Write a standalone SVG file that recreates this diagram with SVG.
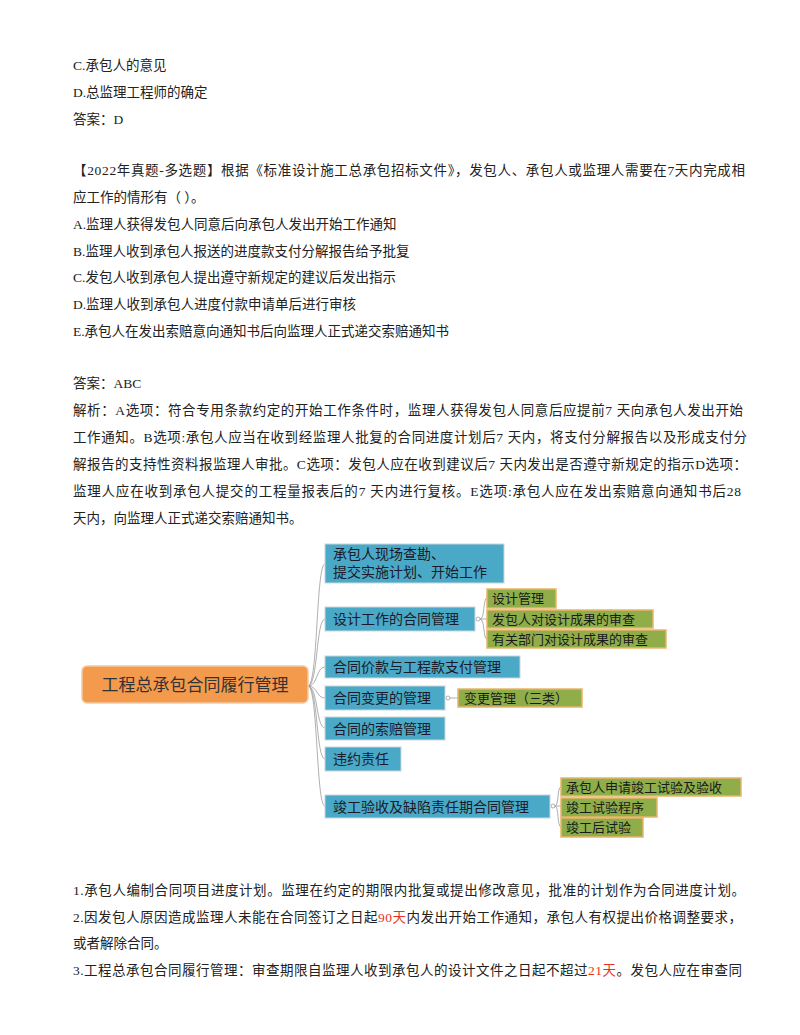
<svg xmlns="http://www.w3.org/2000/svg" width="800" height="1035" viewBox="0 0 800 1035">
<style>
.t{font-family:"Liberation Serif","Noto Sans CJK SC",serif;font-size:13.5px;fill:#222}
.r{fill:#e8321e}
.blue{fill:#4aa9c6;stroke:#c9d6de;stroke-width:1}
.grn{fill:#8fae4a;stroke:#e9b46a;stroke-width:1.5}
.bt{font-family:"Noto Sans CJK SC",sans-serif;font-size:14px;fill:#1a1a2a}
.gt{font-family:"Noto Sans CJK SC",sans-serif;font-size:13px;fill:#1a1a1a}
.c{fill:none;stroke:#9a9a9a;stroke-width:0.8}
</style>
<rect width="800" height="1035" fill="#fff"/>
<g id="text">
<text class="t" x="73" y="70">C.承包人的意见</text>
<text class="t" x="73" y="97">D.总监理工程师的确定</text>
<text class="t" x="73" y="124">答案：D</text>
<text class="t" x="73" y="175" textLength="672" lengthAdjust="spacing">【2022年真题-多选题】根据《标准设计施工总承包招标文件》，发包人、承包人或监理人需要在7天内完成相</text>
<text class="t" x="73" y="202">应工作的情形有（ ）。</text>
<text class="t" x="73" y="229">A.监理人获得发包人同意后向承包人发出开始工作通知</text>
<text class="t" x="73" y="256">B.监理人收到承包人报送的进度款支付分解报告给予批复</text>
<text class="t" x="73" y="282">C.发包人收到承包人提出遵守新规定的建议后发出指示</text>
<text class="t" x="73" y="309">D.监理人收到承包人进度付款申请单后进行审核</text>
<text class="t" x="73" y="336">E.承包人在发出索赔意向通知书后向监理人正式递交索赔通知书</text>
<text class="t" x="73" y="388">答案：ABC</text>
<text class="t" x="73" y="415" textLength="670" lengthAdjust="spacing">解析：A选项：符合专用条款约定的开始工作条件时，监理人获得发包人同意后应提前7 天向承包人发出开始</text>
<text class="t" x="73" y="442" textLength="674" lengthAdjust="spacing">工作通知。B选项:承包人应当在收到经监理人批复的合同进度计划后7 天内，将支付分解报告以及形成支付分</text>
<text class="t" x="73" y="469" textLength="674" lengthAdjust="spacing">解报告的支持性资料报监理人审批。C选项：发包人应在收到建议后7 天内发出是否遵守新规定的指示D选项：</text>
<text class="t" x="73" y="496" textLength="668" lengthAdjust="spacing">监理人应在收到承包人提交的工程量报表后的7 天内进行复核。E选项:承包人应在发出索赔意向通知书后28</text>
<text class="t" x="73" y="523">天内，向监理人正式递交索赔通知书。</text>
<text class="t" x="73" y="895" textLength="672" lengthAdjust="spacing">1.承包人编制合同项目进度计划。监理在约定的期限内批复或提出修改意见，批准的计划作为合同进度计划。</text>
<text class="t" x="73" y="922" textLength="669" lengthAdjust="spacing">2.因发包人原因造成监理人未能在合同签订之日起<tspan class="r">90天</tspan>内发出开始工作通知，承包人有权提出价格调整要求，</text>
<text class="t" x="73" y="948">或者解除合同。</text>
<text class="t" x="73" y="975" textLength="669" lengthAdjust="spacing">3.工程总承包合同履行管理：审查期限自监理人收到承包人的设计文件之日起不超过<tspan class="r">21天</tspan>。发包人应在审查同</text>
</g>
<g id="connectors">
<path class="c" d="M308 686 C318 686 316 564 325 564"/>
<path class="c" d="M308 686 C318 686 316 619 325 619"/>
<path class="c" d="M308 686 C318 686 316 667 325 667"/>
<path class="c" d="M308 686 C318 686 316 698 325 698"/>
<path class="c" d="M308 686 C318 686 316 728 325 728"/>
<path class="c" d="M308 686 C318 686 316 759 325 759"/>
<path class="c" d="M308 686 C318 686 316 806 325 806"/>
<circle class="c" cx="478" cy="619" r="2"/>
<path class="c" d="M480 619 C485 619 483 598 487 598 M480 619 L487 619 M480 619 C485 619 483 639 487 639"/>
<circle class="c" cx="448" cy="698" r="2"/>
<path class="c" d="M450 698 L458 698"/>
<circle class="c" cx="553" cy="806" r="2"/>
<path class="c" d="M555 806 C559 806 557 787 561 787 M555 806 L561 806 M555 806 C559 806 557 827 561 827"/>
</g>
<g id="root"><rect x="82" y="666" width="226" height="37" rx="5" fill="#f39a4c" stroke="#f6c9a0" stroke-width="1.5"/><text x="195" y="691" text-anchor="middle" font-family="Noto Sans CJK SC,sans-serif" font-size="17" fill="#333">工程总承包合同履行管理</text></g>
<g id="n1"><rect class="blue" x="325" y="544" width="179" height="39"/><text class="bt" x="333" y="559" font-size="13.5">承包人现场查勘、</text><text class="bt" x="333" y="577" font-size="13.5">提交实施计划、开始工作</text></g>
<g id="n2"><rect class="blue" x="325" y="607" width="150" height="24"/><text class="bt" x="333" y="624">设计工作的合同管理</text></g>
<g id="n3"><rect class="blue" x="325" y="656" width="195" height="22"/><text class="bt" x="333" y="672">合同价款与工程款支付管理</text></g>
<g id="n4"><rect class="blue" x="325" y="686" width="120" height="24"/><text class="bt" x="333" y="703">合同变更的管理</text></g>
<g id="n5"><rect class="blue" x="325" y="717" width="120" height="23"/><text class="bt" x="333" y="734">合同的索赔管理</text></g>
<g id="n6"><rect class="blue" x="325" y="747" width="76" height="24"/><text class="bt" x="333" y="764">违约责任</text></g>
<g id="n7"><rect class="blue" x="325" y="795" width="225" height="23"/><text class="bt" x="333" y="812">竣工验收及缺陷责任期合同管理</text></g>
<g id="g1"><rect class="grn" x="487" y="589" width="69" height="19"/><text class="gt" x="492" y="603">设计管理</text></g>
<g id="g2"><rect class="grn" x="487" y="610" width="166" height="18"/><text class="gt" x="492" y="624">发包人对设计成果的审查</text></g>
<g id="g3"><rect class="grn" x="487" y="630" width="179" height="18"/><text class="gt" x="492" y="644">有关部门对设计成果的审查</text></g>
<g id="g4"><rect class="grn" x="458" y="689" width="124" height="18"/><text class="gt" x="464" y="703">变更管理（三类）</text></g>
<g id="g5"><rect class="grn" x="561" y="778" width="180" height="18"/><text class="gt" x="566" y="792">承包人申请竣工试验及验收</text></g>
<g id="g6"><rect class="grn" x="561" y="798" width="96" height="19"/><text class="gt" x="566" y="812">竣工试验程序</text></g>
<g id="g7"><rect class="grn" x="561" y="818" width="82" height="19"/><text class="gt" x="566" y="832">竣工后试验</text></g>
</svg>
